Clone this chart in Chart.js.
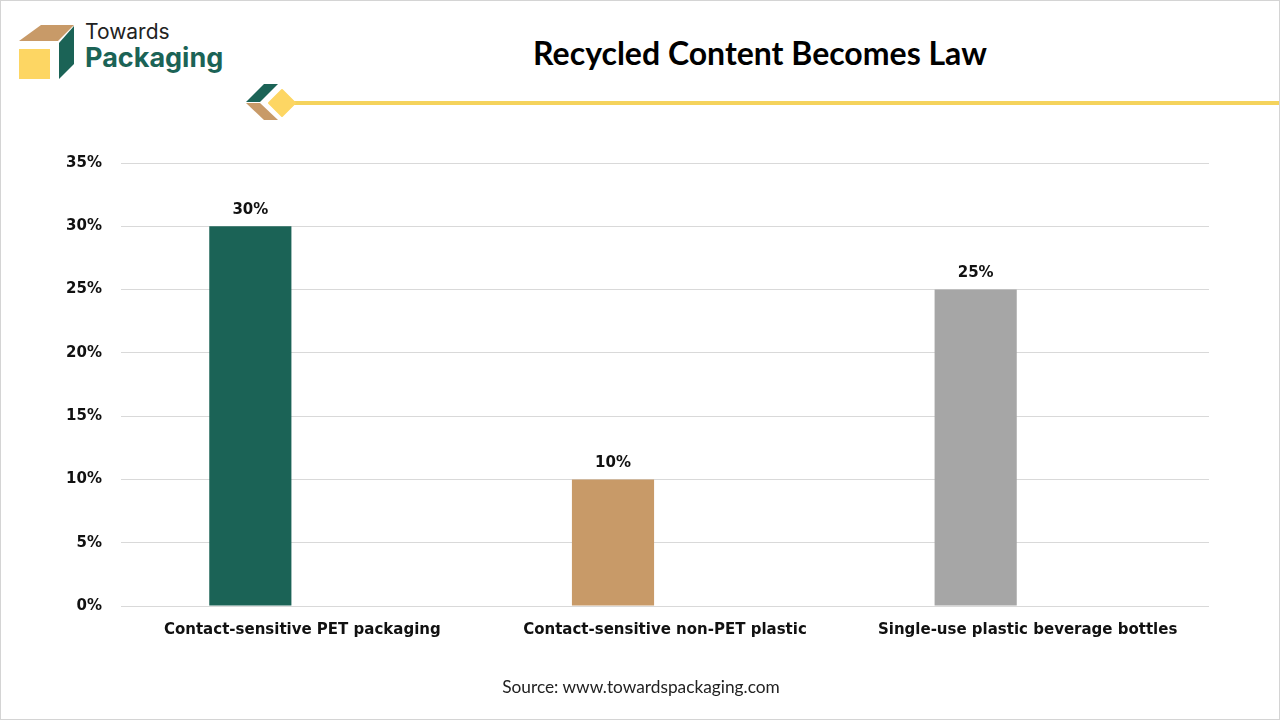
<!DOCTYPE html>
<html>
<head>
<meta charset="utf-8">
<script src="https://cdn.jsdelivr.net/npm/chart.js@4.4.1/dist/chart.umd.min.js"></script>
<style>
    html, body { margin: 0; padding: 0; background: #fff; }
    #page {
        position: relative;
        width: 1280px;
        height: 720px;
        box-sizing: border-box;
        border: 1px solid #d4d4d4;
        overflow: hidden;
        font-family: 'Liberation Sans', Arial, sans-serif;
    }
    #chartCanvas { position: absolute; left: 0; top: 0; }
    .logo-word1 { position: absolute; left: 84px; top: 18px; font-family: Inter, sans-serif; font-size: 21px; color: #222; }
    .logo-word2 { position: absolute; left: 84px; top: 40px; font-family: Inter, sans-serif; font-size: 27px; font-weight: 700; color: #1b6356; }
    .title { position: absolute; left: 0; width: 1518px; top: 32px; text-align: center; font-family: Lato, sans-serif; font-weight: 700; font-size: 32px; color: #000; }
    .source { position: absolute; left: 0; width: 1280px; top: 675px; text-align: center; font-family: Lato, sans-serif; font-size: 17.3px; color: #222; }
    svg { position: absolute; left: 0; top: 0; }
</style>
</head>
<body>
<div id="page">
    <svg width="1280" height="140">
        <!-- logo box -->
        <rect x="18" y="48" width="31" height="30" fill="#fdd663"/>
        <polygon points="18,40 40,24 73,24 57,40" fill="#c89a68"/>
        <polygon points="58,42 73,25 73,63 58,78" fill="#1b6356"/>
        <!-- header rule -->
        <rect x="288" y="100" width="992" height="4" fill="#f5d35c"/>
        <polygon points="245,101 263,83 277,83 259,101" fill="#1b6356"/>
        <polygon points="245,102 259,102 277,119 263,119" fill="#c89a68"/>
        <polygon points="281,89 294,102 281,115 268,102" fill="#fdd663" stroke="#fdd663" stroke-width="2" stroke-linejoin="round"/>
    </svg>
    <div class="logo-word1">Towards</div>
    <div class="logo-word2">Packaging</div>
    <div class="title">Recycled Content Becomes Law</div>
    <canvas id="chartCanvas" width="1280" height="720"></canvas>
    <div class="source">Source: www.towardspackaging.com</div>
</div>
<script>
const categories = ['Contact-sensitive PET packaging', 'Contact-sensitive non-PET plastic', 'Single-use plastic beverage bottles'];
const recycledShare = [30, 10, 25];
const emptySeries = [null, null, null]; // placeholder series, keeps bars left of the label like the original
const barColors = ['#1b6356', '#c89a68', '#a6a6a6'];
const yTicks = [0, 5, 10, 15, 20, 25, 30, 35];

const labelFont = '"DejaVu Sans", "Liberation Sans", sans-serif';

// draw value labels above the bars of the first dataset
const valueLabels = {
    id: 'valueLabels',
    afterDatasetsDraw(chart) {
        const ctx = chart.ctx;
        const meta = chart.getDatasetMeta(0);
        ctx.save();
        ctx.font = 'bold 15px ' + labelFont;
        ctx.fillStyle = '#111';
        ctx.textAlign = 'center';
        ctx.textBaseline = 'bottom';
        meta.data.forEach(function(bar, i) {
            ctx.fillText(recycledShare[i] + '%', bar.x, bar.y - 9);
        });
        ctx.restore();
    }
};

const ctx = document.getElementById('chartCanvas').getContext('2d');
const chart = new Chart(ctx, {
    type: 'bar',
    data: {
        labels: categories,
        datasets: [{
            data: recycledShare,
            backgroundColor: barColors,
            categoryPercentage: 0.5735,
            barPercentage: 0.79
        }, {
            data: emptySeries,
            backgroundColor: '#ffffff',
            categoryPercentage: 0.5735,
            barPercentage: 0.79
        }]
    },
    options: {
        responsive: false,
        animation: false,
        layout: {
            padding: { left: 0, right: 72, top: 162, bottom: 0 }
        },
        plugins: {
            legend: { display: false },
            tooltip: { enabled: false }
        },
        scales: {
            x: {
                grid: { display: false, drawTicks: false },
                border: { display: false },
                ticks: {
                    padding: 15,
                    color: '#111',
                    font: { family: labelFont, size: 15, weight: 'bold' }
                },
                afterFit: function(scale) { scale.height = 115; }
            },
            y: {
                min: 0,
                max: 35,
                afterBuildTicks: function(scale) {
                    scale.ticks = yTicks.map(v => ({ value: v }));
                },
                grid: { color: '#d9d9d9', drawTicks: false },
                border: { display: false },
                ticks: {
                    padding: 19,
                    color: '#111',
                    font: { family: labelFont, size: 15, weight: 'bold' },
                    callback: function(v) { return v + '%'; }
                },
                afterFit: function(scale) { scale.width = 120; }
            }
        }
    },
    plugins: [valueLabels]
});
</script>
</body>
</html>
